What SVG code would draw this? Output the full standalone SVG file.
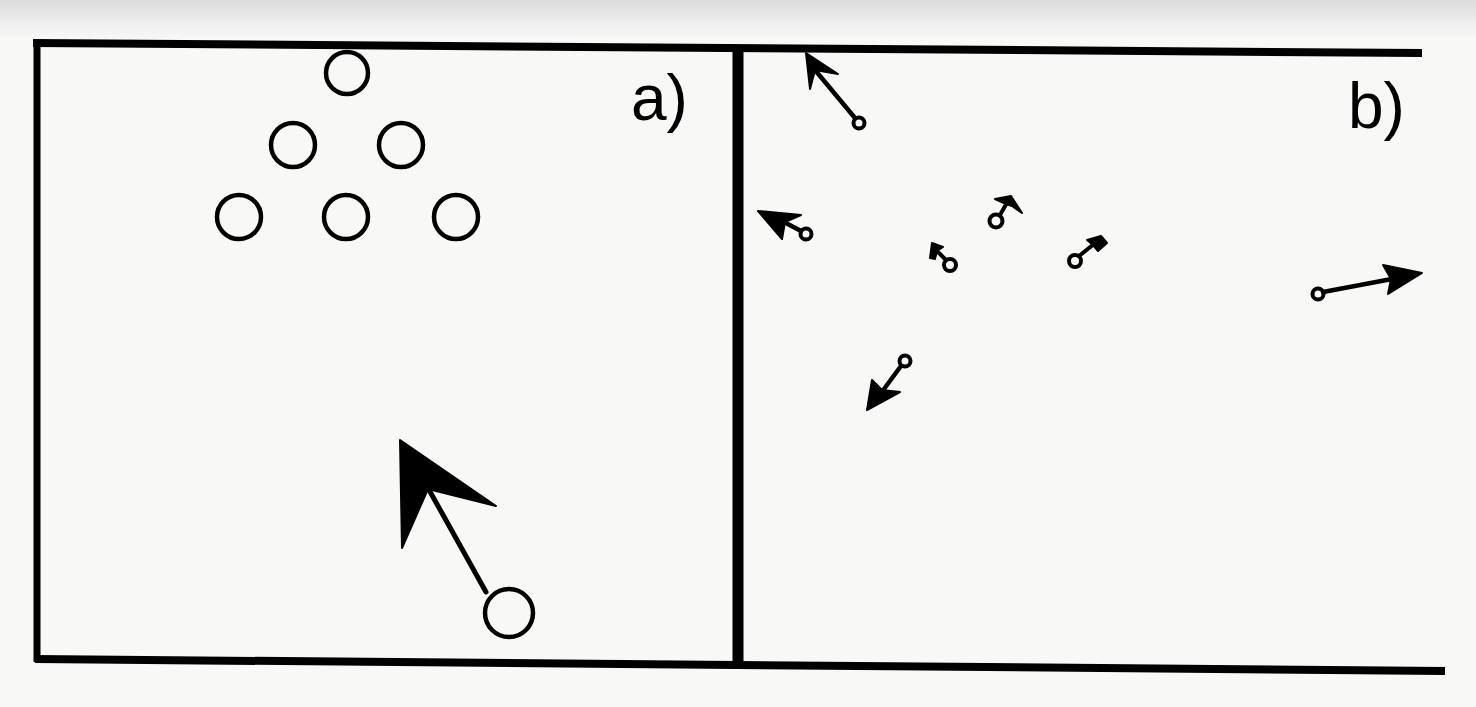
<svg xmlns="http://www.w3.org/2000/svg" width="1476" height="707" viewBox="0 0 1476 707">
  <defs>
    <linearGradient id="scanTop" x1="0" y1="0" x2="0" y2="1">
      <stop offset="0" stop-color="#dcdcdc"/>
      <stop offset="0.6" stop-color="#efefef"/>
      <stop offset="1" stop-color="#f8f8f7"/>
    </linearGradient>
    <style>
      .frame { stroke: #000; fill: none; stroke-linecap: butt; }
      .ball { fill: none; stroke: #000; stroke-width: 4.5; }
      .sball { fill: none; stroke: #000; stroke-width: 4; }
      .shaft { stroke: #000; fill: none; stroke-linecap: round; }
      .head { fill: #000; stroke: #000; stroke-width: 2; stroke-linejoin: round; }
      .label { font-family: "Liberation Sans", Arial, sans-serif; font-size: 64px; fill: #000; }
    </style>
  </defs>

  <rect x="0" y="0" width="1476" height="707" fill="#f8f8f7"/>
  <rect x="0" y="0" width="1476" height="40" fill="url(#scanTop)"/>

  <g id="frame">
    <line class="frame" x1="33" y1="43" x2="1422" y2="53" stroke-width="8"/>
    <line class="frame" x1="35" y1="659" x2="1445" y2="671" stroke-width="8"/>
    <line class="frame" x1="37" y1="40" x2="37" y2="662" stroke-width="7"/>
    <line class="frame" x1="738" y1="46" x2="738" y2="664" stroke-width="11"/>
  </g>

  <g id="label-a"><text class="label" x="631" y="120">a)</text></g>
  <g id="label-b"><text class="label" x="1348" y="128">b)</text></g>

  <g id="panel-a-balls">
    <circle id="ball-1" class="ball" cx="347" cy="73" r="21"/>
    <circle id="ball-2" class="ball" cx="293" cy="145" r="22"/>
    <circle id="ball-3" class="ball" cx="401" cy="145" r="22"/>
    <circle id="ball-4" class="ball" cx="239" cy="217" r="22"/>
    <circle id="ball-5" class="ball" cx="346" cy="217" r="22"/>
    <circle id="ball-6" class="ball" cx="456" cy="217" r="22"/>
    <circle id="cue-ball" class="ball" cx="509" cy="613" r="24"/>
  </g>

  <g id="panel-b-balls">
    <circle id="b-ball-1" class="sball" cx="859" cy="123" r="5.5"/>
    <circle id="b-ball-2" class="sball" cx="806" cy="234" r="5.5"/>
    <circle id="b-ball-3" class="sball" cx="950" cy="265" r="6"/>
    <circle id="b-ball-4" class="sball" cx="996" cy="221" r="6.5"/>
    <circle id="b-ball-5" class="sball" cx="1075" cy="261" r="6"/>
    <circle id="b-ball-6" class="sball" cx="905" cy="361" r="5.5"/>
    <circle id="b-ball-7" class="sball" cx="1318" cy="294" r="5.5"/>
  </g>

  <g id="connectors">
    <!-- panel a cue arrow -->
    <line class="shaft" x1="486" y1="592" x2="428" y2="488" stroke-width="5"/>
    <polygon class="head" points="400,440 496,506 428,489 402,548"/>
    <!-- panel b arrows -->
    <line class="shaft" x1="855" y1="118" x2="815" y2="70" stroke-width="4.5"/>
    <polygon class="head" points="806,53 838,74 815,70 810,89"/>

    <line class="shaft" x1="801" y1="231" x2="784" y2="222" stroke-width="4.5"/>
    <polygon class="head" points="758,211 801,215 785,222 782,239"/>

    <line class="shaft" x1="946" y1="260" x2="937" y2="251" stroke-width="4"/>
    <polygon class="head" points="932,243 943,247 937,251 935,259 930,258"/>

    <line class="shaft" x1="1000" y1="215" x2="1008" y2="201" stroke-width="4"/>
    <polygon class="head" points="995,199 1011,196 1022,213 1012,206 1006,204"/>

    <line class="shaft" x1="1079" y1="256" x2="1094" y2="244" stroke-width="4"/>
    <polygon class="head" points="1087,240 1101,236 1107,243 1098,251 1093,245"/>

    <line class="shaft" x1="901" y1="366" x2="884" y2="389" stroke-width="4.5"/>
    <polygon class="head" points="867,410 872,380 882,390 900,392"/>

    <line class="shaft" x1="1323" y1="292" x2="1392" y2="279" stroke-width="4.5"/>
    <polygon class="head" points="1422,273 1388,294 1391,279 1383,265"/>
  </g>
</svg>
